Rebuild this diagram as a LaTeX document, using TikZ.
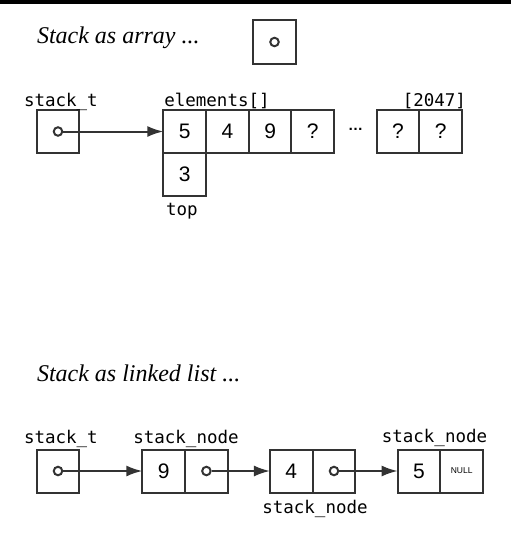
\documentclass[tikz,border=0pt]{standalone}
\usepackage{fontspec}
\setmainfont{Liberation Serif}
\setsansfont{Liberation Sans}
\setmonofont{DejaVu Sans Mono}
\usetikzlibrary{arrows.meta,positioning}
\colorlet{lc}{black!80}
\tikzset{
  cell/.style={draw=lc, rectangle, inner sep=0pt, outer sep=0pt, minimum width=42.7pt, minimum height=43pt, font=\sffamily\fontsize{21}{24}\selectfont},
  dot/.style={draw=lc, circle, inner sep=0pt, minimum size=8.5pt},
  lbl/.style={font=\ttfamily\fontsize{17.5}{20}\selectfont, inner sep=0pt},
  title/.style={font=\itshape\fontsize{24}{28}\selectfont, inner sep=0pt},
  ptr/.style={draw=lc, -{Latex[length=16pt,width=11pt]}},
}

\begin{document}
\begin{tikzpicture}[x=1pt, y=-1pt, line width=2pt]
        \useasboundingbox (0,0) rectangle (511,541);
        \fill (0,0) rectangle (511,4);
        %array
        \node[title, anchor=base west] (t1) at (36,43.5) {Stack as array ...};
        \node[cell, minimum height=44pt] (box) at (274.5,42) {};
        \node[dot] (boxp) at (box) {};
        \node[cell] (s1) at (58,131.5) {};
        \node[dot] (s1p) at (s1) {};
        \node[lbl, anchor=base west] (s1l) at (23,106) {stack\_t};
        \node[cell] (e0) at (184.7,131.5) {5};
        \node[cell, right=0pt of e0] (e1) {4};
        \node[cell, right=0pt of e1] (e2) {9};
        \node[cell, right=0pt of e2] (e3) {?};
        \node[cell, right=42.4pt of e3] (e4) {?};
        \node[cell, right=0pt of e4] (e5) {?};
        \node[font=\sffamily\bfseries\fontsize{15}{15}\selectfont] (gap) at (355.5,129) {…};
        \node[cell, below=0pt of e0] (top) {3};
        \node[lbl, anchor=base west] (el) at (163.3,106) {elements[]};
        \node[lbl, anchor=base east] (last) at (467,106) {[2047]};
        \node[lbl, anchor=base west] (topl) at (165,215) {top};
        %list
        \node[title, anchor=base west] (t2) at (36,381.7) {Stack as linked list ...};
        \node[cell] (s2) at (58,471) {};
        \node[dot] (s2p) at (s2) {};
        \node[lbl, anchor=base west] (s2l) at (23,443) {stack\_t};
        \node[cell] (a1) at (163.7,471) {9};
        \node[cell, right=0pt of a1] (a2) {};
        \node[dot] (a2p) at (a2) {};
        \node[cell] (b1) at (291.3,471) {4};
        \node[cell, right=0pt of b1] (b2) {};
        \node[dot] (b2p) at (b2) {};
        \node[cell] (c1) at (419,471) {5};
        \node[cell, right=0pt of c1, font=\sffamily\fontsize{8.5}{10}\selectfont] (c2) {NULL};
        \node[lbl, anchor=base] (al) at (186,443) {stack\_node};
        \node[lbl, anchor=base] (bl) at (315,513) {stack\_node};
        \node[lbl, anchor=base] (cl) at (434.5,442) {stack\_node};
        %edges
        \path[ptr] (s1p) -- (e0);
        \path[ptr] (s2p) -- (a1);
        \path[ptr] (a2p) -- (b1);
        \path[ptr] (b2p) -- (c1);
\end{tikzpicture}
\end{document}
